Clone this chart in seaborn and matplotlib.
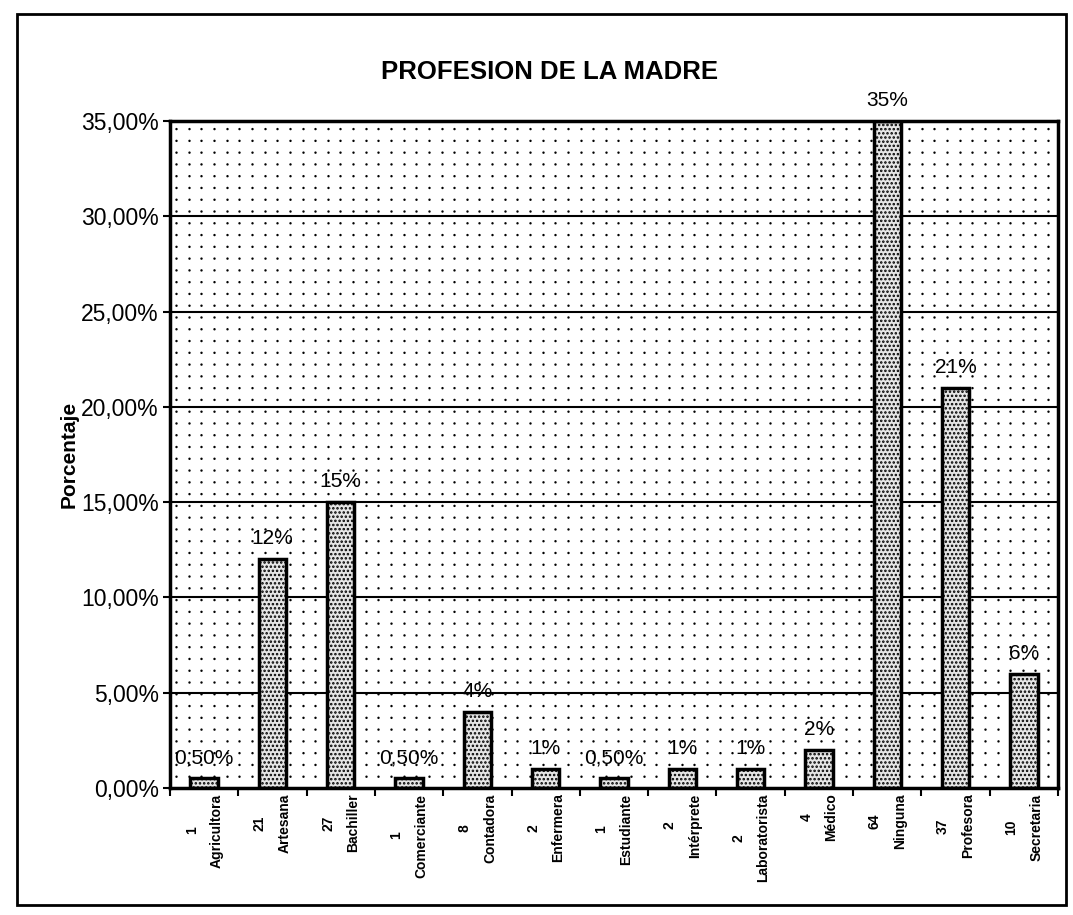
import numpy as np
import pandas as pd
import matplotlib
matplotlib.use("Agg")
import matplotlib.pyplot as plt
import seaborn as sns
from matplotlib.patches import Rectangle

# ---- data ----
profesiones = ["Agricultora", "Artesana", "Bachiller", "Comerciante", "Contadora",
               "Enfermera", "Estudiante", "Intérprete", "Laboratorista", "Médico",
               "Ninguna", "Profesora", "Secretaria"]
conteos = [1, 21, 27, 1, 8, 2, 1, 2, 2, 4, 64, 37, 10]
porcentajes = [0.5, 12, 15, 0.5, 4, 1, 0.5, 1, 1, 2, 35, 21, 6]
etiquetas = ["0,50%", "12%", "15%", "0,50%", "4%", "1%", "0,50%", "1%", "1%",
             "2%", "35%", "21%", "6%"]
yticks = [0, 5, 10, 15, 20, 25, 30, 35]
ytick_labels = ["0,00%", "5,00%", "10,00%", "15,00%", "20,00%", "25,00%",
                "30,00%", "35,00%"]
titulo = "PROFESION DE LA MADRE"
ylabel = "Porcentaje"

df = pd.DataFrame({"prof": profesiones, "pct": porcentajes})

sns.set_theme(style="white")
plt.rcParams["font.family"] = ["Liberation Sans", "DejaVu Sans"]
plt.rcParams["hatch.linewidth"] = 1.2
for k in ["text.color", "axes.labelcolor", "xtick.color", "ytick.color"]:
    plt.rcParams[k] = "black"

fig = plt.figure(figsize=(10.73, 9.15), dpi=100)
ax = fig.add_axes([170 / 1073, 1 - 788 / 915, (1058 - 170) / 1073, (788 - 121) / 915])

sns.barplot(data=df, x="prof", y="pct", ax=ax, width=0.4, color="#e6e6e6",
            edgecolor="black", linewidth=2.5, zorder=3)
for p in ax.patches:
    p.set_hatch("....")

n = len(profesiones)
ax.set_xlim(-0.5, n - 0.5)
ax.set_ylim(0, 35)

# dotted background pattern
xs = np.arange(-0.5 + 0.09, n - 0.5, 0.185)
ax.vlines(xs, 0, 35, colors="black", linewidth=1.8,
          linestyles=[(0, (0.01, 4.7))], zorder=0, capstyle="round")

# horizontal gridlines
for yv in yticks[1:-1]:
    ax.axhline(yv, color="black", lw=1.5, zorder=1)

ax.set_yticks(yticks)
ax.set_yticklabels(ytick_labels, fontsize=16.5)
ax.tick_params(axis="y", length=5, width=1.5, direction="out", left=True, pad=3)

ax.set_xticks(range(n))
ax.set_xticklabels([f"{c}\n{p}" for c, p in zip(conteos, profesiones)],
                   rotation=90, fontsize=10, fontweight="bold",
                   va="top", ha="center", multialignment="center",
                   linespacing=2.0)
ax.tick_params(axis="x", length=0, pad=4)
ax.set_xticks(np.arange(-0.5, n, 1.0), minor=True)
ax.tick_params(axis="x", which="minor", length=6, width=1.5, direction="out", bottom=True)

for s in ax.spines.values():
    s.set_visible(True)
    s.set_color("black")
    s.set_linewidth(2.5)
    s.set_zorder(4)

ax.set_xlabel("")
ax.set_ylabel(ylabel, fontsize=15, fontweight="bold", labelpad=2)

ax.bar_label(ax.containers[0], labels=etiquetas, fontsize=15, padding=8,
             clip_on=False, color="black")

fig.text(550 / 1073, 1 - 72 / 915, titulo, fontsize=18.5, fontweight="bold",
         ha="center", va="center")

fig.add_artist(Rectangle((17 / 1073, 1 - 905 / 915), (1066 - 17) / 1073,
                         (905 - 14) / 915, transform=fig.transFigure,
                         fill=False, edgecolor="black", lw=2))

fig.savefig("out.png", dpi=100)
